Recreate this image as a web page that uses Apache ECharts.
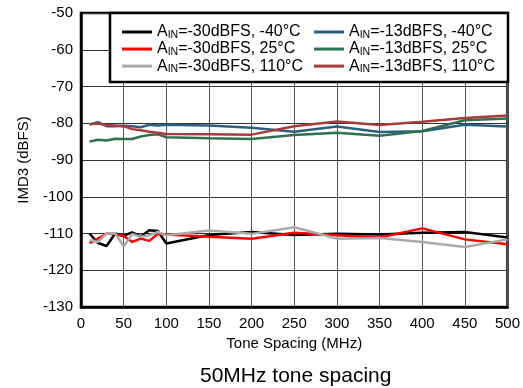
<!DOCTYPE html>
<html><head><meta charset="utf-8">
<script src="https://cdn.jsdelivr.net/npm/echarts@6/dist/echarts.min.js"></script>
<style>html,body{margin:0;padding:0;background:#fff}#c{width:523px;height:388px}</style>
</head><body><div id="c"></div>
<script>
const toneSpacing = [10,20,30,40,50,60,70,80,90,100,150,200,250,300,350,400,450,500];
const ain30_m40 = [-110.0,-112.6,-113.4,-110.0,-110.6,-109.7,-110.8,-109.1,-109.3,-112.7,-110.4,-109.6,-110.4,-110.1,-110.3,-109.8,-109.6,-111.1];
const ain30_25  = [-112.6,-111.4,-110.0,-110.2,-110.7,-112.3,-111.4,-112.0,-110.1,-110.3,-110.9,-111.4,-109.8,-110.5,-111.1,-108.6,-111.6,-112.9];
const ain30_110 = [-111.8,-112.3,-110.0,-109.9,-113.5,-110.1,-110.9,-110.5,-109.6,-110.5,-109.2,-110.1,-108.3,-111.4,-111.2,-112.3,-113.7,-111.6];
const ain13_m40 = [-80.3,-79.7,-80.8,-80.8,-80.7,-80.8,-81.1,-80.4,-80.6,-80.4,-80.6,-81.2,-82.3,-80.9,-82.4,-82.2,-80.4,-80.9];
const ain13_25  = [-85.0,-84.5,-84.7,-84.2,-84.3,-84.3,-83.6,-83.2,-83.0,-83.8,-84.1,-84.3,-83.2,-82.6,-83.4,-82.1,-79.2,-78.7];
const ain13_110 = [-80.3,-80.1,-80.5,-80.6,-80.8,-81.6,-81.9,-82.3,-82.6,-82.9,-83.0,-83.1,-80.8,-79.5,-80.5,-79.6,-78.6,-77.9];
const xTicks = [0,50,100,150,200,250,300,350,400,450,500];
const yTicks = [-130,-120,-110,-100,-90,-80,-70,-60,-50];

const names = ['AIN=-30dBFS, -40°C','AIN=-13dBFS, -40°C','AIN=-30dBFS, 25°C','AIN=-13dBFS, 25°C','AIN=-30dBFS, 110°C','AIN=-13dBFS, 110°C'];
const datas = [ain30_m40, ain13_m40, ain30_25, ain13_25, ain30_110, ain13_110];
const colors = ['#000000','#2b5f80','#ff0000','#2e7050','#aaaaaa','#a83c3c'];

const FONT = 'Liberation Sans, Arial, sans-serif';
const series = names.map((n,i)=>({
  name:n, type:'line', showSymbol:false, symbol:'none',
  data: toneSpacing.map((x,j)=>[x, datas[i][j]]),
  lineStyle:{color:colors[i], width:2.5}, itemStyle:{color:colors[i]},
  z: i%2===0 ? 3 : 2
}));

const legendCommon = {
  orient:'vertical', icon:'rect', itemWidth:30, itemHeight:3, itemGap:0.7, padding:0, z:10, align:'left',
  formatter: n => '{a|A}{s|IN}{a|' + n.slice(3) + '}',
  textStyle:{ fontFamily:FONT, color:'#000', rich:{
    a:{fontSize:16, fontFamily:FONT, color:'#000', lineHeight:16.7},
    s:{fontSize:10.5, fontFamily:FONT, color:'#000', lineHeight:6, verticalAlign:'bottom'}
  }}
};

const chart = echarts.init(document.getElementById('c'), null, {renderer:'canvas'});
chart.setOption({
  animation:false,
  backgroundColor:'#fff',
  title:{ text:'50MHz tone spacing', left:195, top:361,
    textStyle:{fontFamily:FONT, fontSize:21, fontWeight:'normal', color:'#000'} },
  grid:{ left:81, right:15, top:13, bottom:81, show:true, borderColor:'#000', borderWidth:2.5, containLabel:false },
  legend:[
    Object.assign({}, legendCommon, {data:[names[0],names[2],names[4]], left:122, top:24}),
    Object.assign({}, legendCommon, {data:[names[1],names[3],names[5]], left:314, top:24})
  ],
  graphic:[{ type:'rect', z:5, shape:{x:110, y:13, width:398, height:69},
    style:{fill:'#fff', stroke:'#000', lineWidth:2.5} }],
  xAxis:{ type:'value', min:0, max:500, interval:50,
    name:'Tone Spacing (MHz)', nameLocation:'middle', nameGap:28,
    nameTextStyle:{fontFamily:FONT, fontSize:15, color:'#000'},
    axisLine:{show:true, lineStyle:{color:'#000', width:2.5}},
    axisTick:{show:false},
    axisLabel:{fontFamily:FONT, fontSize:15, color:'#000', margin:9},
    splitLine:{show:true, lineStyle:{color:'#555', width:1}} },
  yAxis:{ type:'value', min:-130, max:-50, interval:10,
    name:'IMD3 (dBFS)', nameLocation:'middle', nameGap:50, nameRotate:90,
    nameTextStyle:{fontFamily:FONT, fontSize:15, color:'#000'},
    axisLine:{show:true, lineStyle:{color:'#000', width:2.5}},
    axisTick:{show:false},
    axisLabel:{fontFamily:FONT, fontSize:15, color:'#000', margin:8},
    splitLine:{show:true, lineStyle:{color:'#333', width:1}} },
  series: series
});
</script></body></html>
